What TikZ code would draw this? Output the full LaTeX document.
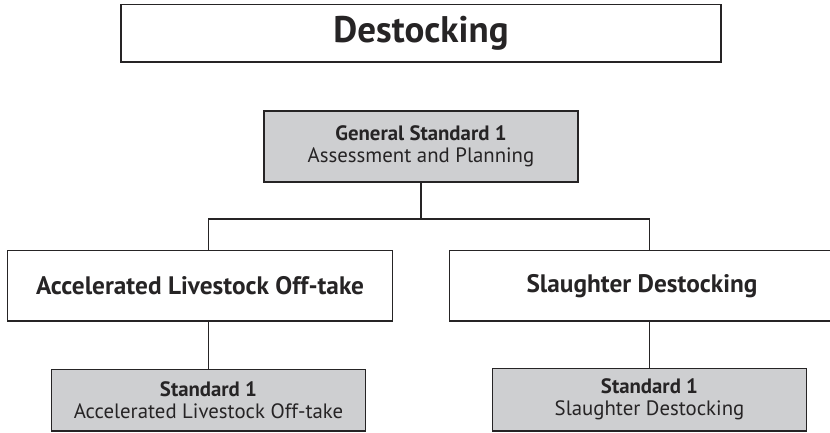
\documentclass[tikz,border=0pt]{standalone}
\usepackage{fontspec}
\setmainfont{PT Sans}
\usepackage{tikz}
\usetikzlibrary{positioning,calc}
\definecolor{inkline}{RGB}{38,36,37}
\definecolor{boxgray}{RGB}{206,207,209}
\tikzset{
    frame/.style={draw=inkline, line width=1.5pt, outer sep=0pt, inner sep=0pt, text=inkline},
    headbox/.style={frame, minimum width=600pt, minimum height=57.5pt, font=\bfseries\fontsize{37}{40}\selectfont},
    branchbox/.style={frame, minimum width=385pt, minimum height=70.5pt, font=\bfseries\fontsize{25.3}{29}\selectfont},
    stdbox/.style={frame, fill=boxgray, minimum width=314pt, align=center, font=\fontsize{20.8}{21.6}\selectfont},
    link/.style={draw=inkline, line width=1.5pt}
}

\begin{document}
\begin{tikzpicture}
            \useasboundingbox (0,0) rectangle (830pt,-432pt);
            \node[headbox] (title) at (421pt,-33.2pt) {Destocking};
            \node[stdbox, minimum height=71pt, below=49pt of title] (general) {\textbf{General Standard 1}\\Assessment and Planning};
            \node[branchbox] (leftbr) at (200pt,-285.8pt) {Accelerated Livestock Off-take};
            \node[branchbox, right=57pt of leftbr] (rightbr) {Slaughter Destocking};
            \node[stdbox, minimum height=61.5pt] (leftstd) at (208.5pt,-400pt) {\textbf{Standard 1}\\Accelerated Livestock Off-take};
            \node[stdbox, minimum height=62.5pt] (rightstd) at (649.5pt,-399.5pt) {\textbf{Standard 1}\\Slaughter Destocking};
            \coordinate[below=37pt of general] (fork);
            \draw[link] (general) -- (fork);
            \draw[link] (fork) -| (leftstd.north |- leftbr.north);
            \draw[link] (fork) -| (rightstd.north |- rightbr.north);
            \draw[link] (leftstd.north |- leftbr.south) -- (leftstd);
            \draw[link] (rightstd.north |- rightbr.south) -- (rightstd);
        \end{tikzpicture}
\end{document}
